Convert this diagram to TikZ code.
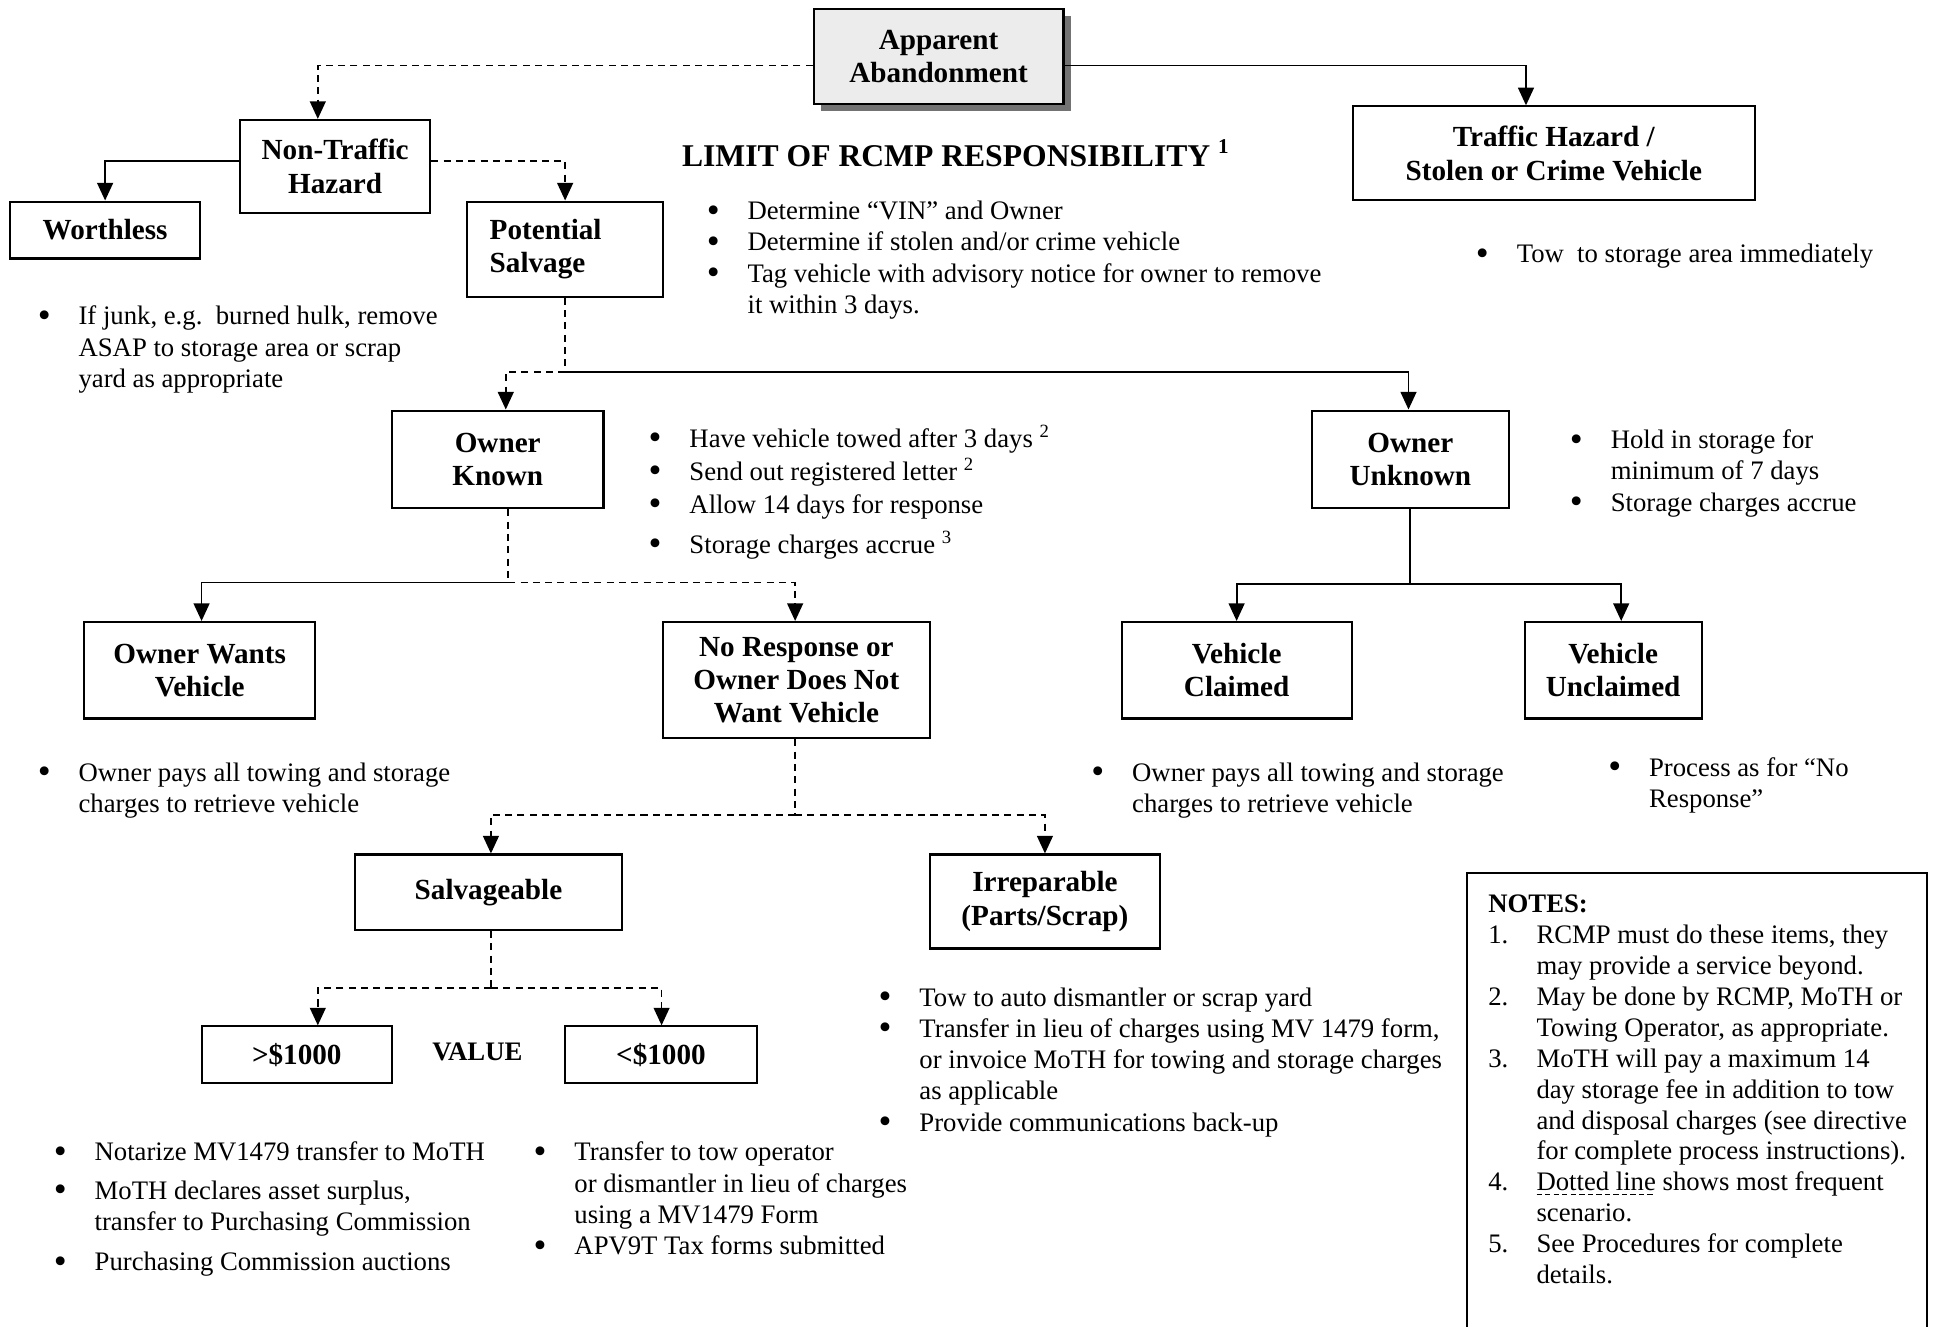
\documentclass[tikz,border=0pt]{standalone}
\usepackage{fontspec}
\setmainfont{Liberation Serif}
\usetikzlibrary{arrows.meta,shadows}

\newcommand{\boxfont}{\fontsize{8.3}{9.5}\selectfont\bfseries}
\newcommand{\txtfont}{\fontsize{7.6}{8.9}\selectfont}
\newcommand{\bul}{\makebox[11.6pt][l]{\raisebox{-0.7pt}{\fontsize{10.5}{10}\selectfont\textbullet}}}
\newcommand{\ind}{\hspace*{11.6pt}}
\newcommand{\num}[1]{\makebox[13.7pt][l]{#1}}
\newcommand{\nind}{\hspace*{13.7pt}}
\newcommand{\dashul}[1]{\setbox0\hbox{#1}\rlap{\raisebox{-1.3pt}{\hbox to \wd0{\xleaders\hbox{\rule{1.5pt}{0.35pt}\hskip0.9pt}\hfill}}}\box0\relax}

\tikzset{
  box/.style={draw, line width=0.6pt, font=\boxfont, align=center, inner sep=0pt},
  sz/.style 2 args={minimum width=#1*0.3518pt, minimum height=#2*0.3518pt},
  txt/.style={font=\txtfont, align=left, inner sep=0pt, anchor=north west},
  link/.style={line width=0.5pt},
  dline/.style={link, dash pattern=on 2pt off 1.5pt},
  arr/.style={-{Triangle[length=5pt,width=4.5pt]}},
}

\begin{document}
\begin{tikzpicture}[x=0.3518pt,y=-0.3518pt]
\useasboundingbox (0,0) rectangle (1568,1073);

% boxes
\node[box, sz={202}{77}, fill=gray!15, drop shadow={shadow xshift=2pt, shadow yshift=-2pt, fill=black!55, opacity=1}] (apparent) at (759,45.5) {Apparent\\Abandonment};
\node[box, sz={154}{75}] (nontraffic) at (271,134.5) {Non-Traffic\\Hazard};
\node[box, sz={154}{46}] (worthless) at (85,186) {Worthless};
\node[box, sz={325}{76}] (traffic) at (1256.5,124) {Traffic Hazard /\\Stolen or Crime Vehicle};
\node[box, sz={158}{77}, align=left, text width=42.9pt, inner xsep=6.3pt] (potential) at (457,201.5) {Potential\\Salvage};
\node[box, sz={171}{79}] (ownerknown) at (402.5,371.5) {Owner\\Known};
\node[box, sz={159}{79}] (ownerunknown) at (1140.5,371.5) {Owner\\Unknown};
\node[box, sz={187}{78}] (ownerwants) at (161.5,542) {Owner Wants\\Vehicle};
\node[box, sz={216}{94}] (noresponse) at (644,550) {No Response or\\Owner Does Not\\Want Vehicle};
\node[box, sz={186}{78}] (claimed) at (1000,542) {Vehicle\\Claimed};
\node[box, sz={143}{78}] (unclaimed) at (1304.5,542) {Vehicle\\Unclaimed};
\node[box, sz={216}{61}] (salvageable) at (395,721.5) {Salvageable};
\node[box, sz={186}{76}] (irreparable) at (845,729) {Irreparable\\(Parts/Scrap)};
\node[box, sz={154}{46}] (over) at (240,853) {>\$1000};
\node[box, sz={155}{46}] (under) at (534.5,853) {<\$1000};

% headings
\node[font=\fontsize{9}{10}\selectfont\bfseries, anchor=west, inner sep=0pt] (title) at (551,124) {LIMIT OF RCMP RESPONSIBILITY \textsuperscript{1}};
\node[font=\fontsize{7.6}{9}\selectfont\bfseries, inner sep=0pt] (value) at (386,851) {VALUE};

% bullet texts
\node[txt] (junk) at (30,247) {\bul If junk, e.g.\ \ burned hulk, remove\\\ind ASAP to storage area or scrap\\\ind yard as appropriate};
\node[txt] (rcmp) at (571,162) {\bul Determine “VIN” and Owner\\\bul Determine if stolen and/or crime vehicle\\\bul Tag vehicle with advisory notice for owner to remove\\\ind it within 3 days.};
\node[txt] (tow) at (1193,197) {\bul Tow\ \ to storage area immediately};
\node[txt] (known) at (524,343) {\bul Have vehicle towed after 3 days \textsuperscript{2}\\[0.5pt]\bul Send out registered letter \textsuperscript{2}\\[0.5pt]\bul Allow 14 days for response\\[2.5pt]\bul Storage charges accrue \textsuperscript{3}};
\node[txt] (unknown) at (1269,347) {\bul Hold in storage for\\\ind minimum of 7 days\\\bul Storage charges accrue};
\node[txt] (wants) at (30,616) {\bul Owner pays all towing and storage\\\ind charges to retrieve vehicle};
\node[txt] (claimedtxt) at (882,616) {\bul Owner pays all towing and storage\\\ind charges to retrieve vehicle};
\node[txt] (unclaimedtxt) at (1300,612) {\bul Process as for “No\\\ind Response”};
\node[txt] (scrap) at (710,798) {\bul Tow to auto dismantler or scrap yard\\\bul Transfer in lieu of charges using MV 1479 form,\\\ind or invoice MoTH for towing and storage charges\\\ind as applicable\\\bul Provide communications back-up};
\node[txt] (overtxt) at (43,923) {\bul Notarize MV1479 transfer to MoTH\\[2pt]\bul MoTH declares asset surplus,\\\ind transfer to Purchasing Commission\\[2.5pt]\bul Purchasing Commission auctions};
\node[txt] (undertxt) at (431,923) {\bul Transfer to tow operator\\\ind or dismantler in lieu of charges\\\ind using a MV1479 Form\\\bul APV9T Tax forms submitted};

% notes
\draw[line width=0.6pt] (1186,1085) |- (1558,706) -- (1558,1085);
\node[txt, font=\fontsize{7.6}{8.8}\selectfont] (notes) at (1203,723) {{\bfseries NOTES:}\\
\num{1.}RCMP must do these items, they\\
\nind may provide a service beyond.\\
\num{2.}May be done by RCMP, MoTH or\\
\nind Towing Operator, as appropriate.\\
\num{3.}MoTH will pay a maximum 14\\
\nind day storage fee in addition to tow\\
\nind and disposal charges (see directive\\
\nind for complete process instructions).\\
\num{4.}\dashul{Dotted line} shows most frequent\\
\nind scenario.\\
\num{5.}See Procedures for complete\\
\nind details.};

% connectors
\coordinate (j1) at (257,53);
\coordinate (j2) at (1234,53);
\coordinate (j3) at (85,130);
\coordinate (j4) at (457,130);
\coordinate (j5) at (457,301);
\coordinate (j6) at (409,301);
\coordinate (j7) at (1139,301);
\coordinate (j8) at (411,471);
\coordinate (j9) at (163,471);
\coordinate (j10) at (643,471);
\coordinate (j11) at (1140,472);
\coordinate (j12) at (1000,472);
\coordinate (j13) at (1311,472);
\coordinate (j14) at (643,659);
\coordinate (j15) at (397,659);
\coordinate (j16) at (845,659);
\coordinate (j17) at (397,799);
\coordinate (j18) at (257,799);
\coordinate (j19) at (535,799);

\draw[dline,arr] (apparent.west |- j1) -| (j1 |- nontraffic.north);
\draw[link,arr] (apparent.east |- j2) -| (j2 |- traffic.north);
\draw[link,arr] (nontraffic.west |- j3) -| (j3 |- worthless.north);
\draw[dline,arr] (nontraffic.east |- j4) -| (j4 |- potential.north);
\draw[dline] (j5 |- potential.south) -- (j5);
\draw[dline,arr] (j5) -- (j6) -- (j6 |- ownerknown.north);
\draw[link,arr] (j5) -| (j7 |- ownerunknown.north);
\draw[dline] (j8 |- ownerknown.south) -- (j8);
\draw[link,arr] (j8) -| (j9 |- ownerwants.north);
\draw[dline,arr] (j8) -| (j10 |- noresponse.north);
\draw[link] (j11 |- ownerunknown.south) -- (j11);
\draw[link,arr] (j11) -| (j12 |- claimed.north);
\draw[link,arr] (j11) -| (j13 |- unclaimed.north);
\draw[dline] (j14 |- noresponse.south) -- (j14);
\draw[dline,arr] (j14) -| (j15 |- salvageable.north);
\draw[dline,arr] (j14) -| (j16 |- irreparable.north);
\draw[dline] (j17 |- salvageable.south) -- (j17);
\draw[dline,arr] (j17) -| (j18 |- over.north);
\draw[dline,arr] (j17) -| (j19 |- under.north);
\end{tikzpicture}
\end{document}
